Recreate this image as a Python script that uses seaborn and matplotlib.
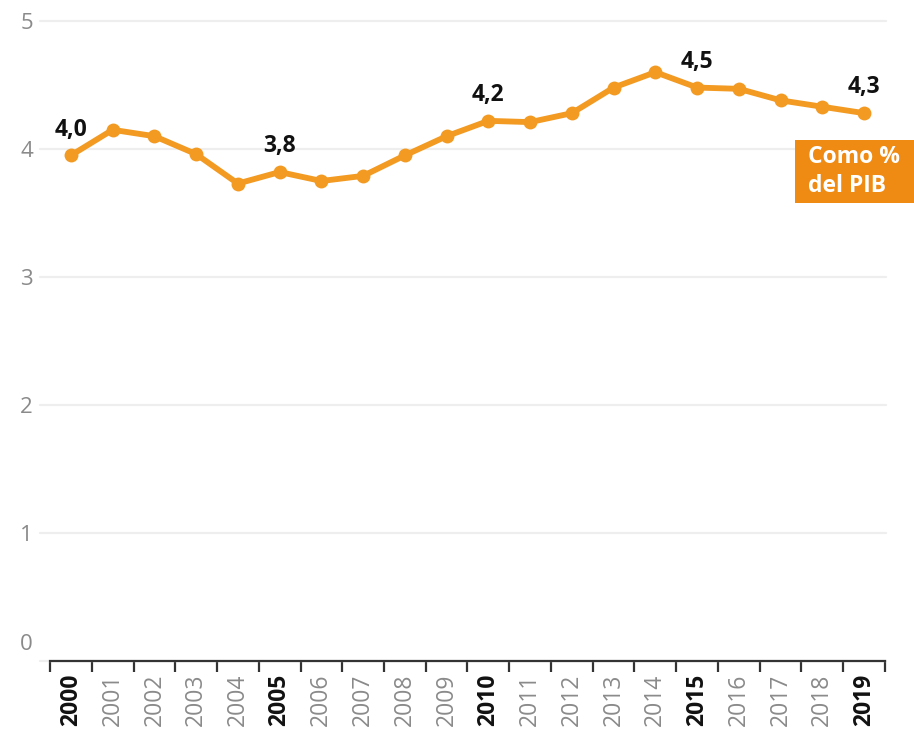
import matplotlib
matplotlib.use("Agg")
import matplotlib.pyplot as plt
import seaborn as sns
import pandas as pd
from matplotlib.patches import Rectangle

years = list(range(2000, 2020))
values = [3.95, 4.15, 4.10, 3.96, 3.73, 3.82, 3.75, 3.79, 3.95, 4.10,
          4.22, 4.21, 4.28, 4.48, 4.60, 4.48, 4.47, 4.38, 4.33, 4.28]
highlight_years = [2000, 2005, 2010, 2015, 2019]
highlight_labels = ["4,0", "3,8", "4,2", "4,5", "4,3"]
y_ticks = [0, 1, 2, 3, 4, 5]
badge_text = "Como %\ndel PIB"

LINE = "#F29A22"
BOX = "#EF8A12"
GRAY = "#8a8a8a"

sns.set_theme(style="white")
plt.rcParams["font.family"] = ["Open Sans", "DejaVu Sans"]

df = pd.DataFrame({"year": years, "value": values})
df["pos"] = range(len(df))

W, H = 914, 738
fig = plt.figure(figsize=(W / 100, H / 100), dpi=100)
ax_left, ax_right, ax_top, ax_bottom = 40, 886, 21, 661
ax = fig.add_axes([ax_left / W, (H - ax_bottom) / H,
                   (ax_right - ax_left) / W, (ax_bottom - ax_top) / H])

sns.lineplot(data=df, x="pos", y="value", ax=ax, color=LINE, lw=4.2,
             marker="o", markersize=10, markeredgewidth=0, zorder=3)

cat_w = (885 - 50) / 20.0
ax.set_xlim(-0.5 - (50 - ax_left) / cat_w, 19.5 + (ax_right - 885) / cat_w)
ax.set_ylim(0, 5)

# grid
ax.set_yticks(y_ticks)
ax.set_yticklabels([str(t) if t != 0 else "" for t in y_ticks],
                   color=GRAY, fontsize=16)
ax.tick_params(axis="y", length=0, pad=5)
ax.grid(axis="y", color="#eeeeee", lw=1.6)
ax.grid(axis="x", visible=False)
for gl in ax.get_ygridlines():
    gl.set_clip_on(False)
ax.annotate("0", xy=(0, 0), xycoords=("axes fraction", "data"),
            xytext=(-5, 12), textcoords="offset points",
            ha="right", va="center", color=GRAY, fontsize=16)

for s in ["top", "right", "left"]:
    ax.spines[s].set_visible(False)
ax.spines["bottom"].set_bounds(-0.5, 19.5)
ax.spines["bottom"].set_color("#333333")
ax.spines["bottom"].set_linewidth(1.6)
ax.spines["bottom"].set_zorder(4)

ax.set_xticks(df["pos"])
ax.set_xticklabels([str(y) for y in years], rotation=90, fontsize=16.5)
ax.set_xticks([p - 0.5 for p in range(len(years) + 1)], minor=True)
ax.tick_params(axis="x", which="major", length=0, pad=9)
ax.tick_params(axis="x", which="minor", length=8, width=1.6, color="#333333",
               direction="out", bottom=True)
for lbl, y in zip(ax.get_xticklabels(), years):
    if y in highlight_years:
        lbl.set_fontweight("bold")
        lbl.set_color("#111111")
    else:
        lbl.set_color(GRAY)
ax.set_xlabel("")
ax.set_ylabel("")

# value labels
for y, txt in zip(highlight_years, highlight_labels):
    row = df[df["year"] == y].iloc[0]
    ax.annotate(txt, xy=(row["pos"], row["value"]), xytext=(0, 18.5),
                textcoords="offset points", ha="center", va="center",
                fontsize=16.5, fontweight="bold", color="#111111")

# badge
fig.patches.append(Rectangle((795 / W, 1 - 203 / H), (W - 795) / W, 63 / H,
                             transform=fig.transFigure, facecolor=BOX,
                             edgecolor="none", zorder=5))
fig.text(808 / W, 1 - 171.5 / H, badge_text, ha="left", va="center",
         color="white", fontsize=16.5, fontweight="bold", linespacing=1.3,
         zorder=6)

fig.savefig("out.png", dpi=100)
